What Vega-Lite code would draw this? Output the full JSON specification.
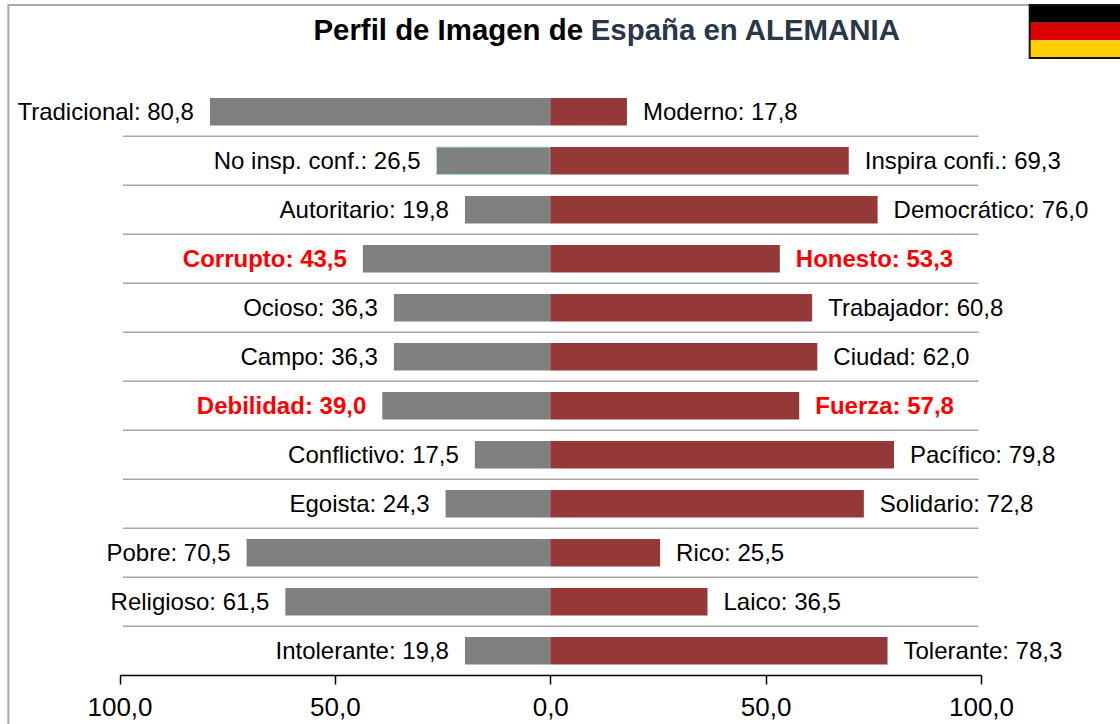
{
"$schema":"https://vega.github.io/schema/vega-lite/v6.json",
"width":1120,"height":675,
"autosize":{"type":"none"},
"padding":{"left":0,"top":0,"right":0,"bottom":49},
"background":"white",
"config":{"view":{"stroke":null},"axis":{"labelFont":"Liberation Sans"}},
"datasets":{
"filas":[
{"fila":"Tradicional / Moderno","izq":"Tradicional: 80,8","der":"Moderno: 17,8","vi":-79,"vd":17.8,"destacado":false},
{"fila":"No insp. conf. / Inspira confi.","izq":"No insp. conf.: 26,5","der":"Inspira confi.: 69,3","vi":-26.4,"vd":69.3,"destacado":false},
{"fila":"Autoritario / Democrático","izq":"Autoritario: 19,8","der":"Democrático: 76,0","vi":-19.8,"vd":76,"destacado":false},
{"fila":"Corrupto / Honesto","izq":"Corrupto: 43,5","der":"Honesto: 53,3","vi":-43.5,"vd":53.3,"destacado":true},
{"fila":"Ocioso / Trabajador","izq":"Ocioso: 36,3","der":"Trabajador: 60,8","vi":-36.3,"vd":60.8,"destacado":false},
{"fila":"Campo / Ciudad","izq":"Campo: 36,3","der":"Ciudad: 62,0","vi":-36.3,"vd":62,"destacado":false},
{"fila":"Debilidad / Fuerza","izq":"Debilidad: 39,0","der":"Fuerza: 57,8","vi":-39,"vd":57.8,"destacado":true},
{"fila":"Conflictivo / Pacífico","izq":"Conflictivo: 17,5","der":"Pacífico: 79,8","vi":-17.5,"vd":79.8,"destacado":false},
{"fila":"Egoista / Solidario","izq":"Egoista: 24,3","der":"Solidario: 72,8","vi":-24.3,"vd":72.8,"destacado":false},
{"fila":"Pobre / Rico","izq":"Pobre: 70,5","der":"Rico: 25,5","vi":-70.5,"vd":25.5,"destacado":false},
{"fila":"Religioso / Laico","izq":"Religioso: 61,5","der":"Laico: 36,5","vi":-61.5,"vd":36.5,"destacado":false},
{"fila":"Intolerante / Tolerante","izq":"Intolerante: 19,8","der":"Tolerante: 78,3","vi":-19.8,"vd":78.3,"destacado":false}
]},
"resolve":{"scale":{"y":"independent"}},
"layer":[
{"data":{"values":[{"a":-125.8,"b":145,"t":0,"u":1}]},
 "mark":{"type":"rect","fill":null,"stroke":"#aaaaaa","strokeWidth":2},
 "encoding":{
  "x":{"field":"a","type":"quantitative","scale":{"domain":[-100,100],"range":[119.5,981],"nice":false,"zero":false},"title":null,
    "axis":{"values":[-100,-50,0,50,100],"labelExpr":"replace(format(abs(datum.value),'.1f'),'.',',')","grid":false,"labelFlush":false,"labelOverlap":false,"domainColor":"#000000","domainWidth":1.5,"tickColor":"#000000","tickWidth":1.5,"tickSize":9,"labelFontSize":26,"labelColor":"#000000","labelPadding":10,"labelBaseline":"top"}},
  "x2":{"field":"b"},
  "y":{"field":"t","type":"quantitative","scale":{"domain":[0,1],"range":[5,800]},"axis":null},
  "y2":{"field":"u"}}},
{"data":{"values":[{"f":"negro","a":111.3,"b":135},{"f":"rojo","a":111.3,"b":135},{"f":"amarillo","a":111.3,"b":135}]},
 "mark":{"type":"rect"},
 "encoding":{
  "x":{"field":"a","type":"quantitative"},"x2":{"field":"b"},
  "y":{"field":"f","type":"nominal","sort":["negro","rojo","amarillo"],"scale":{"domain":["negro","rojo","amarillo"],"range":[5,58],"paddingInner":0,"paddingOuter":0},"axis":null},
  "color":{"field":"f","type":"nominal","scale":{"domain":["negro","rojo","amarillo","izq","der"],"range":["#000000","#dd0000","#ffce00","#808080","#943838"]},"legend":null}}},
{"data":{"values":[{"f":"bandera","a":111.3,"b":135}]},
 "mark":{"type":"rect","fill":null,"stroke":"#111111","strokeWidth":2},
 "encoding":{
  "x":{"field":"a","type":"quantitative"},"x2":{"field":"b"},
  "y":{"field":"f","type":"nominal","scale":{"domain":["bandera"],"range":[5,58],"paddingInner":0,"paddingOuter":0},"axis":null}}},
{"data":{"values":[{"t":"Perfil de Imagen de","p":7.6,"y":"titulo"}]},
 "mark":{"type":"text","font":"Liberation Sans","fontWeight":"bold","fontSize":29.4,"align":"right","baseline":"middle","color":"#000000"},
 "encoding":{"x":{"field":"p","type":"quantitative"},"y":{"field":"y","type":"nominal","scale":{"domain":["titulo"],"range":[1,60]},"axis":null},"text":{"field":"t"}}},
{"data":{"values":[{"t":"España en ALEMANIA","p":9.4,"y":"titulo"}]},
 "mark":{"type":"text","font":"Liberation Sans","fontWeight":"bold","fontSize":29.4,"align":"left","baseline":"middle","color":"#2b3648"},
 "encoding":{"x":{"field":"p","type":"quantitative"},"y":{"field":"y","type":"nominal","scale":{"domain":["titulo"],"range":[1,60]},"axis":null},"text":{"field":"t"}}},
{"data":{"name":"filas"},
 "encoding":{"y":{"field":"fila","type":"nominal","sort":null,"scale":{"range":[87.3,675.3],"paddingInner":0.44,"paddingOuter":0.22},"axis":null}},
 "layer":[
  {"transform":[{"filter":"datum.fila !== 'Intolerante / Tolerante'"}],
   "mark":{"type":"rule","color":"#a6a6a6","strokeWidth":1.5},
   "encoding":{"y":{"field":"fila","type":"nominal","sort":null,"bandPosition":1.39},"x":{"datum":-99.2},"x2":{"datum":99.4}}},
  {"mark":{"type":"bar","color":"#808080"},"encoding":{"x":{"field":"vi","type":"quantitative"},"x2":{"datum":0}}},
  {"transform":[{"filter":"datum.fila === 'No insp. conf. / Inspira confi.'"}],"mark":{"type":"bar","color":"#808080","stroke":"#a8dcc0","strokeWidth":1},"encoding":{"x":{"field":"vi","type":"quantitative"},"x2":{"datum":0}}},
  {"mark":{"type":"bar","color":"#943838"},"encoding":{"x":{"field":"vd","type":"quantitative"},"x2":{"datum":0}}},
  {"transform":[{"filter":"!datum.destacado"}],"mark":{"type":"text","font":"Liberation Sans","fontSize":24,"align":"right","baseline":"middle","dx":-16,"dy":1,"color":"#000000"},"encoding":{"x":{"field":"vi","type":"quantitative"},"text":{"field":"izq"}}},
  {"transform":[{"filter":"!datum.destacado"}],"mark":{"type":"text","font":"Liberation Sans","fontSize":24,"align":"left","baseline":"middle","dx":16,"dy":1,"color":"#000000"},"encoding":{"x":{"field":"vd","type":"quantitative"},"text":{"field":"der"}}},
  {"transform":[{"filter":"datum.destacado"}],"mark":{"type":"text","font":"Liberation Sans","fontWeight":"bold","fontSize":24,"align":"right","baseline":"middle","dx":-16,"dy":1,"color":"#ff0000"},"encoding":{"x":{"field":"vi","type":"quantitative"},"text":{"field":"izq"}}},
  {"transform":[{"filter":"datum.destacado"}],"mark":{"type":"text","font":"Liberation Sans","fontWeight":"bold","fontSize":24,"align":"left","baseline":"middle","dx":16,"dy":1,"color":"#ff0000"},"encoding":{"x":{"field":"vd","type":"quantitative"},"text":{"field":"der"}}}
 ]}
]}
